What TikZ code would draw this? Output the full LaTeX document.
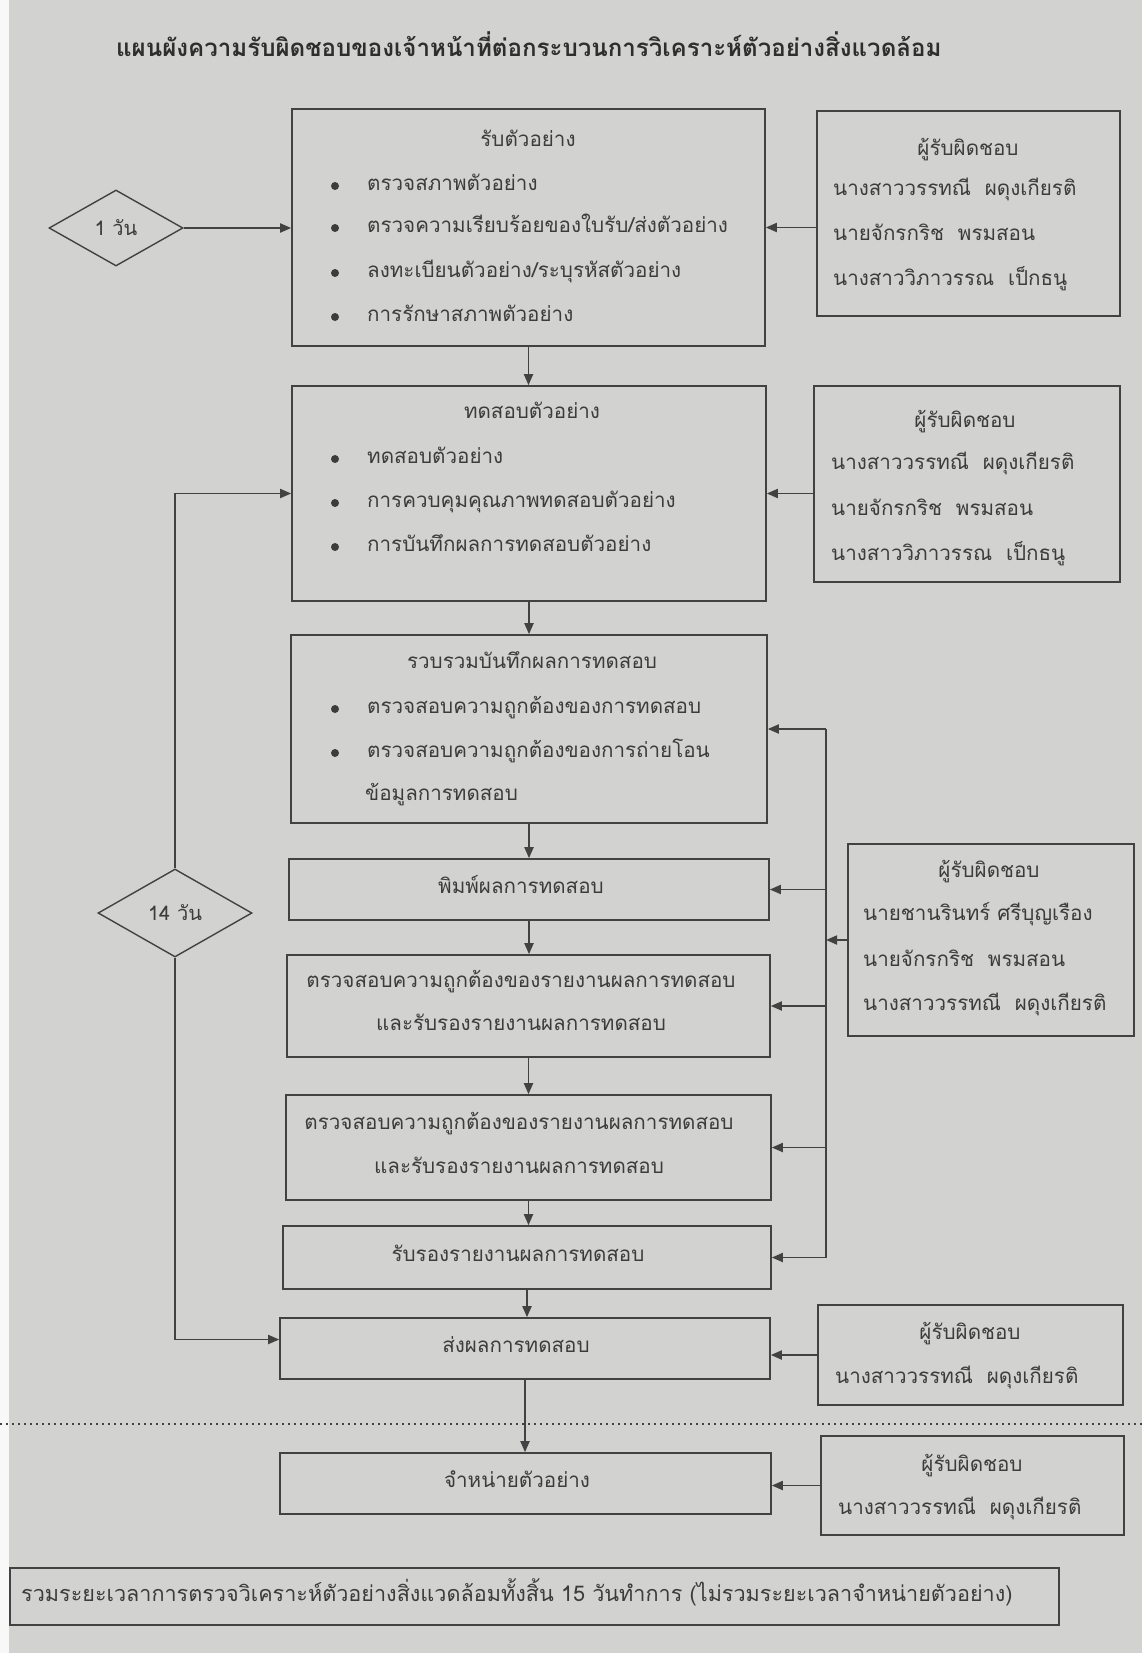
\documentclass[tikz,border=0pt]{standalone}
\usepackage{fontspec}
\newfontfamily\thaifont[Script=Thai]{Loma}
\usetikzlibrary{arrows.meta,shapes.geometric,calc}
\definecolor{paper}{RGB}{210,210,208}
\definecolor{ink}{RGB}{66,66,66}
\definecolor{txtc}{RGB}{60,60,60}
\begin{document}
\begin{tikzpicture}[x=1pt,y=-1pt,
  box/.style={draw=ink, line width=1.6pt, inner sep=0pt},
  dia/.style={draw=ink, line width=1.4pt, diamond, inner sep=0pt, font=\thaifont\fontsize{20}{24}\selectfont, text=txtc},
  conn/.style={draw=ink, line width=1.8pt, -{Triangle[length=11pt,width=9pt]}},
  plain/.style={draw=ink, line width=1.8pt},
  tx/.style={font=\thaifont\fontsize{20.6}{24}\selectfont, text=txtc, inner sep=0pt, text height=14pt, text depth=5pt},
  tl/.style={tx, anchor=west},
  tc/.style={tx, anchor=center},
  dot/.style={fill=txtc}
]
\useasboundingbox (0,0) rectangle (1142,1653);
\fill[paper] (0,0) rectangle (1142,1653);
\fill[white!85!paper] (0,0) rectangle (9,1653);

% title
\node[font=\thaifont\bfseries\fontsize{24.1}{29}\selectfont, text=black!82, inner sep=0pt, anchor=west] (title) at (116,44) {แผนผังความรับผิดชอบของเจ้าหน้าที่ต่อกระบวนการวิเคราะห์ตัวอย่างสิ่งแวดล้อม};

% main boxes
\node[box, minimum width=473pt, minimum height=237pt] (b1) at (528.5,227.5) {};
\node[box, minimum width=474pt, minimum height=215pt] (b2) at (529,493.5) {};
\node[box, minimum width=476pt, minimum height=188pt] (b3) at (529,729) {};
\node[box, minimum width=480pt, minimum height=61pt] (b4) at (529,889.5) {};
\node[box, minimum width=483pt, minimum height=102pt] (b5) at (528.5,1006) {};
\node[box, minimum width=485pt, minimum height=105pt] (b6) at (528.5,1147.5) {};
\node[box, minimum width=488pt, minimum height=63pt] (b7) at (527,1257.5) {};
\node[box, minimum width=490pt, minimum height=61pt] (b8) at (525,1348.5) {};
\node[box, minimum width=491pt, minimum height=61pt] (b9) at (525.5,1483.5) {};
\node[box, minimum width=1049pt, minimum height=57pt] (bt) at (534.5,1596.5) {};

% responsibility boxes
\node[box, minimum width=303pt, minimum height=205pt] (r1) at (968.5,213.5) {};
\node[box, minimum width=306pt, minimum height=196pt] (r2) at (967,484) {};
\node[box, minimum width=286pt, minimum height=192pt] (r3) at (991,940) {};
\node[box, minimum width=305pt, minimum height=100pt] (r8) at (970.5,1355) {};
\node[box, minimum width=303pt, minimum height=99pt] (r9) at (972.5,1485.5) {};

% diamonds
\node[dia, minimum width=134pt, minimum height=76pt] (d1) at (116,228) {1 วัน};
\node[dia, minimum width=154pt, minimum height=88pt] (d2) at (175,913) {14 วัน};

% box 1 text
\node[tc] (t1h) at (528,142) {รับตัวอย่าง};
\node[tl] (t1a) at (367,186) {ตรวจสภาพตัวอย่าง};
\node[tl] (t1b) at (367,228) {ตรวจความเรียบร้อยของใบรับ/ส่งตัวอย่าง};
\node[tl] (t1c) at (367,273) {ลงทะเบียนตัวอย่าง/ระบุรหัสตัวอย่าง};
\node[tl] (t1d) at (367,317) {การรักษาสภาพตัวอย่าง};
\foreach \yy in {186,228,273,317} \fill[dot] (335,\yy) circle (4pt);

% box 2 text
\node[tc] (t2h) at (532,414) {ทดสอบตัวอย่าง};
\node[tl] (t2a) at (367,459) {ทดสอบตัวอย่าง};
\node[tl] (t2b) at (367,503) {การควบคุมคุณภาพทดสอบตัวอย่าง};
\node[tl] (t2c) at (367,547) {การบันทึกผลการทดสอบตัวอย่าง};
\foreach \yy in {459,503,547} \fill[dot] (335,\yy) circle (4pt);

% box 3 text
\node[tc] (t3h) at (532,664) {รวบรวมบันทึกผลการทดสอบ};
\node[tl] (t3a) at (367,709) {ตรวจสอบความถูกต้องของการทดสอบ};
\node[tl] (t3b) at (367,753) {ตรวจสอบความถูกต้องของการถ่ายโอน};
\node[tl] (t3c) at (365,796) {ข้อมูลการทดสอบ};
\foreach \yy in {709,753} \fill[dot] (335,\yy) circle (4pt);

% other box texts
\node[tc] (t4) at (521,889) {พิมพ์ผลการทดสอบ};
\node[tc] (t5a) at (521,983) {ตรวจสอบความถูกต้องของรายงานผลการทดสอบ};
\node[tc] (t5b) at (521,1026) {และรับรองรายงานผลการทดสอบ};
\node[tc] (t6a) at (519,1125) {ตรวจสอบความถูกต้องของรายงานผลการทดสอบ};
\node[tc] (t6b) at (519,1169) {และรับรองรายงานผลการทดสอบ};
\node[tc] (t7) at (518,1257) {รับรองรายงานผลการทดสอบ};
\node[tc] (t8) at (516,1348) {ส่งผลการทดสอบ};
\node[tc] (t9) at (517,1483) {จำหน่ายตัวอย่าง};
\node[tl, font=\thaifont\fontsize{21.6}{25}\selectfont] (tbt) at (21,1597) {รวมระยะเวลาการตรวจวิเคราะห์ตัวอย่างสิ่งแวดล้อมทั้งสิ้น 15 วันทำการ (ไม่รวมระยะเวลาจำหน่ายตัวอย่าง)};

% responsibility texts
\node[tc] (r1h) at (968,151) {ผู้รับผิดชอบ};
\node[tl] (r1a) at (833,191) {นางสาววรรทณี\ \ ผดุงเกียรติ};
\node[tl] (r1b) at (833,236) {นายจักรกริช\ \ พรมสอน};
\node[tl] (r1c) at (833,281) {นางสาววิภาวรรณ\ \ เป็กธนู};

\node[tc] (r2h) at (965,423) {ผู้รับผิดชอบ};
\node[tl] (r2a) at (831,465) {นางสาววรรทณี\ \ ผดุงเกียรติ};
\node[tl] (r2b) at (831,511) {นายจักรกริช\ \ พรมสอน};
\node[tl] (r2c) at (831,556) {นางสาววิภาวรรณ\ \ เป็กธนู};

\node[tc] (r3h) at (989,873) {ผู้รับผิดชอบ};
\node[tl] (r3a) at (863,916) {นายชานรินทร์ ศรีบุญเรือง};
\node[tl] (r3b) at (863,962) {นายจักรกริช\ \ พรมสอน};
\node[tl] (r3c) at (863,1006) {นางสาววรรทณี\ \ ผดุงเกียรติ};

\node[tc] (r8h) at (970,1335) {ผู้รับผิดชอบ};
\node[tl] (r8a) at (835,1379) {นางสาววรรทณี\ \ ผดุงเกียรติ};

\node[tc] (r9h) at (972,1467) {ผู้รับผิดชอบ};
\node[tl] (r9a) at (838,1510) {นางสาววรรทณี\ \ ผดุงเกียรติ};

% main flow
\draw[conn] (b1.south) -- (b1.south |- b2.north);
\draw[conn] (b2.south) -- (b2.south |- b3.north);
\draw[conn] (b3.south) -- (b3.south |- b4.north);
\draw[conn] (b4.south) -- (b4.south |- b5.north);
\draw[conn] (b5.south) -- (b5.south |- b6.north);
\draw[conn] (b6.south) -- (b6.south |- b7.north);
\draw[conn] (b7.south) -- (b7.south |- b8.north);
\draw[conn] (b8.south) -- (b8.south |- b9.north);

% diamond connectors
\draw[conn] (d1.east) -- (d1.east -| b1.west);
\draw[conn] (d2.north) |- (b2.west);
\draw[conn] (d2.south) |- ([yshift=9pt]b8.west);

% responsibility connectors
\draw[conn] (r1.west |- b1.east) -- (b1.east);
\draw[conn] (r2.west |- b2.east) -- (b2.east);
\draw[conn] (r8.west) -- (r8.west -| b8.east);
\draw[conn] (r9.west) -- (r9.west -| b9.east);

% bus
\coordinate (bus) at (826,0);
\draw[plain] (b3.east -| bus) -- (b7.east -| bus);
\draw[conn] (r3.west) -- (r3.west -| bus);
\foreach \b in {b3,b4,b5,b6,b7} \draw[conn] (\b.east -| bus) -- (\b.east);

% dotted separator
\coordinate (dl) at (0,1424);
\coordinate (dr) at (1142,1424);
\draw[ink, line width=1.2pt, dash pattern=on 2pt off 4pt] (dl) -- (dr);
\end{tikzpicture}
\end{document}
